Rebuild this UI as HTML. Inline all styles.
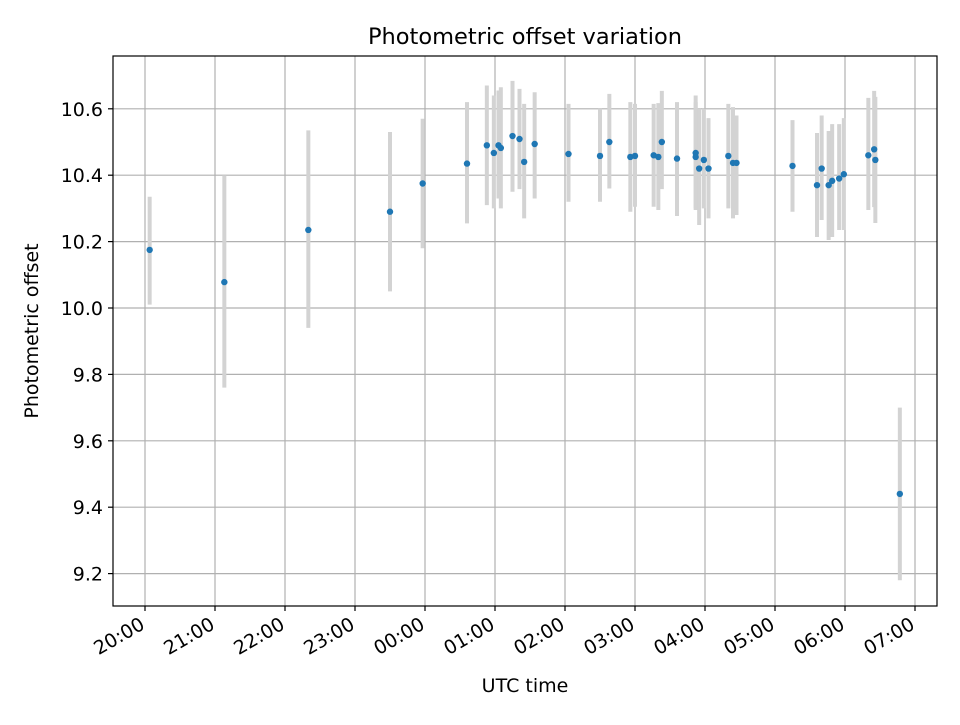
<!DOCTYPE html>
<html><head><meta charset="utf-8"><style>
body{margin:0;background:#fff}
svg text{font-family:"DejaVu Sans","Liberation Sans",sans-serif;fill:#000}
</style></head><body>
<svg id="c" width="960" height="720"></svg>
<script>
const times=["20:04","21:08","22:20","23:30","23:58","00:36","00:53","00:59","01:03","01:05","01:15","01:21","01:25","01:34","02:03","02:30","02:38","02:56","03:00","03:16","03:20","03:23","03:36","03:52","03:52","03:55","03:59","04:03","04:20","04:24","04:27","05:15","05:36","05:40","05:46","05:49","05:55","05:59","06:20","06:25","06:26","06:47"];
const values=[10.175,10.078,10.235,10.29,10.375,10.435,10.49,10.467,10.49,10.482,10.518,10.509,10.44,10.494,10.464,10.458,10.5,10.455,10.458,10.46,10.455,10.5,10.45,10.467,10.455,10.42,10.446,10.42,10.458,10.437,10.437,10.428,10.37,10.42,10.37,10.383,10.39,10.403,10.46,10.478,10.446,9.44];
const lows=[10.01,9.76,9.94,10.05,10.18,10.255,10.31,10.30,10.33,10.30,10.35,10.358,10.27,10.33,10.32,10.32,10.36,10.29,10.305,10.305,10.295,10.358,10.277,10.295,10.30,10.25,10.3,10.27,10.3,10.27,10.28,10.29,10.214,10.265,10.205,10.214,10.235,10.235,10.295,10.304,10.256,9.18];
const highs=[10.335,10.40,10.535,10.53,10.57,10.62,10.67,10.64,10.655,10.665,10.684,10.66,10.615,10.65,10.615,10.6,10.645,10.62,10.615,10.615,10.617,10.654,10.62,10.64,10.62,10.6,10.6,10.572,10.615,10.605,10.58,10.566,10.527,10.58,10.533,10.554,10.554,10.572,10.633,10.654,10.636,9.70];
const yTicks=[9.2,9.4,9.6,9.8,10.0,10.2,10.4,10.6];
const xTicks=["20:00","21:00","22:00","23:00","00:00","01:00","02:00","03:00","04:00","05:00","06:00","07:00"];

const L=113,R=937,T=56,B=606;
function hrs(s){let [h,m]=s.split(":").map(Number);if(h<12)h+=24;return h-20+m/60;}
const X=t=>145+70*hrs(t);
const Y=v=>308-(v-10)*332;
const svg=document.getElementById('c');
const NS="http://www.w3.org/2000/svg";
function el(tag,at,txt){const e=document.createElementNS(NS,tag);for(const k in at)e.setAttribute(k,at[k]);if(txt!=null)e.textContent=txt;svg.appendChild(e);return e;}
let e;
e=el('rect',{x:L,y:T,width:R-L,height:B-T,fill:'#fff'});


yTicks.forEach(v=>{
 e=el('line',{x1:L,x2:R,y1:Y(v),y2:Y(v),stroke:'#b0b0b0','stroke-width':1.2});
 
 
 el('line',{x1:L-5,x2:L,y1:Y(v),y2:Y(v),stroke:'#000','stroke-width':1.2});
 e=el('text',{x:L-10,y:Y(v)+7,'text-anchor':'end','font-size':19},v.toFixed(1));
 
 
});
xTicks.forEach(t=>{
 const x=X(t);
 e=el('line',{x1:x,x2:x,y1:T,y2:B,stroke:'#b0b0b0','stroke-width':1.2});
 
 
 el('line',{x1:x,x2:x,y1:B,y2:B+5,stroke:'#000','stroke-width':1.2});
 e=el('text',{x:x+1,y:B+22,'text-anchor':'end','font-size':19,transform:`rotate(-30 ${x+1} ${B+22})`},t);
 
 
});
times.forEach((t,i)=>{
 e=el('line',{x1:X(t),x2:X(t),y1:Y(highs[i]),y2:Y(lows[i]),stroke:'#d3d3d3','stroke-width':4});
 
 
});
times.forEach((t,i)=>{
 e=el('circle',{cx:X(t),cy:Y(values[i]),r:3.2,fill:'#1f77b4'});
 
 
});
e=el('rect',{x:L,y:T,width:R-L,height:B-T,fill:'none',stroke:'#000','stroke-width':1.2});


e=el('text',{x:525,y:44,'text-anchor':'middle','font-size':22.5},'Photometric offset variation');


e=el('text',{x:525,y:692,'text-anchor':'middle','font-size':19},'UTC time');


e=el('text',{x:38,y:331,'text-anchor':'middle','font-size':19,transform:'rotate(-90 38 331)'},'Photometric offset');


</script>
</body></html>
